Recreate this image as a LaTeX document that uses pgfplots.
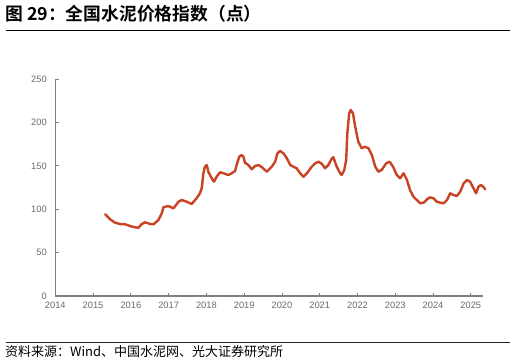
\documentclass[border=0pt]{standalone}
\usepackage{pgfplots}
\pgfplotsset{compat=1.18}
\usepackage{fontspec}
\setmainfont{Liberation Sans}
\newfontfamily\cjk[BoldFont={Noto Sans CJK SC Bold}]{Noto Sans CJK SC}
\definecolor{lineC}{RGB}{200,66,36}
\definecolor{axC}{RGB}{128,128,128}
\definecolor{tkC}{RGB}{105,105,105}
\pgfplotstableread{
x y
2015.32 94.1
2015.45 88.4
2015.58 84.5
2015.72 82.9
2015.85 82.6
2015.98 80.6
2016.11 79.1
2016.20 78.7
2016.29 82.9
2016.38 84.9
2016.51 82.9
2016.60 82.6
2016.73 87.6
2016.82 95.3
2016.86 102.2
2016.99 103.7
2017.13 101.0
2017.26 108.6
2017.35 110.6
2017.48 108.6
2017.61 106.0
2017.74 112.6
2017.83 118.3
2017.88 125.0
2017.92 141.4
2017.96 149.0
2018.01 150.9
2018.05 143.2
2018.14 135.6
2018.20 131.7
2018.27 137.4
2018.36 142.5
2018.45 141.4
2018.58 139.4
2018.67 141.4
2018.76 144.0
2018.80 150.9
2018.87 160.5
2018.93 162.4
2018.98 160.5
2019.02 153.6
2019.11 150.9
2019.20 146.0
2019.29 149.8
2019.38 150.9
2019.47 148.3
2019.60 143.2
2019.73 149.0
2019.82 154.7
2019.88 164.4
2019.95 167.1
2020.04 164.4
2020.13 158.6
2020.22 150.9
2020.30 149.0
2020.39 147.1
2020.48 141.4
2020.57 137.4
2020.66 141.4
2020.79 149.0
2020.88 152.9
2020.97 154.7
2021.06 152.1
2021.14 147.1
2021.23 150.9
2021.32 158.6
2021.36 159.8
2021.45 149.0
2021.54 141.4
2021.58 139.4
2021.65 145.2
2021.70 156.7
2021.73 187.4
2021.78 210.5
2021.82 214.3
2021.88 210.5
2021.94 195.0
2022.02 177.8
2022.11 170.2
2022.20 172.0
2022.29 170.2
2022.38 162.4
2022.47 149.0
2022.55 143.2
2022.64 145.2
2022.76 152.9
2022.85 154.7
2022.94 149.0
2023.04 139.4
2023.13 135.6
2023.22 141.4
2023.31 133.6
2023.39 122.1
2023.48 114.4
2023.57 110.6
2023.66 106.8
2023.75 107.5
2023.84 111.4
2023.92 113.7
2024.01 112.6
2024.10 108.6
2024.19 107.5
2024.28 106.8
2024.37 110.6
2024.45 118.3
2024.54 116.4
2024.63 115.2
2024.72 120.2
2024.81 129.8
2024.90 133.6
2024.98 131.7
2025.07 124.1
2025.14 118.3
2025.20 125.9
2025.27 127.9
2025.33 125.9
2025.38 122.9
}\cementdata
\begin{document}
\begin{tikzpicture}
\useasboundingbox (0,0) rectangle (516pt,-363pt);
\node[anchor=west,inner sep=0pt] at (5pt,-14pt) {\cjk\bfseries\fontsize{17.8}{19}\selectfont 图 29：全国水泥价格指数（点）};
\draw[line width=1pt,black] (6pt,-31pt) -- (510pt,-31pt);
\draw[line width=0.8pt,black!85] (6pt,-342.3pt) -- (510pt,-342.3pt);
\node[anchor=west,inner sep=0pt] at (5pt,-352pt) {\cjk\fontsize{13}{15}\selectfont 资料来源：Wind、中国水泥网、光大证券研究所};
\begin{axis}[
  at={(55.3pt,-296pt)}, anchor=south west,
  scale only axis,
  width=428pt, height=217pt,
  xmin=2014, xmax=2025.33,
  ymin=0, ymax=250,
  axis lines=left,
  axis line style={-, axC, line width=1.1pt},
  xtick={2014,2015,...,2025},
  ytick={0,50,...,250},
  tick style={axC, line width=0.8pt},
  major tick length=3.5pt,
  tick align=inside,
  /pgf/number format/1000 sep={},
  /pgf/number format/assume math mode=true,
  ticklabel style={font=\fontsize{9.3}{11}\selectfont, text=tkC},
  xticklabel style={yshift=-2pt},
  yticklabel style={xshift=-5pt},
  clip=false,
]
\addplot[lineC, line width=2.4pt, line join=round, line cap=round] table[x=x,y=y] {\cementdata};
\end{axis}
\end{tikzpicture}
\end{document}
